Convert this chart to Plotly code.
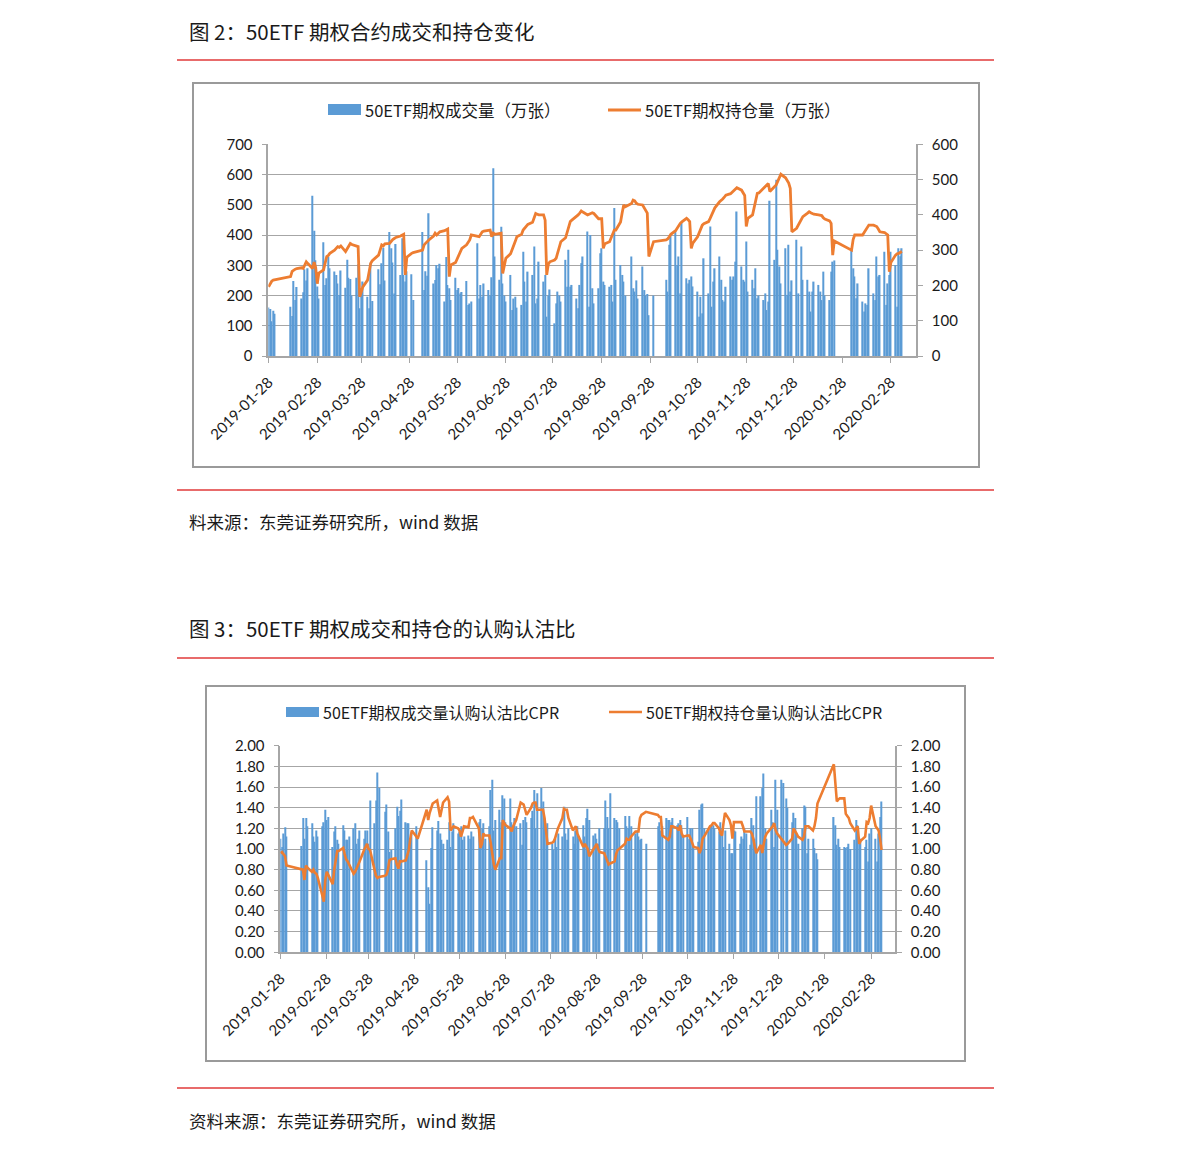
import pandas as pd
import plotly.graph_objects as go

# ---------------- categories: trading days ----------------
holidays = ['2019-02-04', '2019-02-05', '2019-02-06', '2019-02-07', '2019-02-08',
            '2019-04-05', '2019-05-01', '2019-05-02', '2019-05-03', '2019-06-07',
            '2019-09-13', '2019-10-01', '2019-10-02', '2019-10-03', '2019-10-04',
            '2019-10-07', '2020-01-01', '2020-01-24', '2020-01-27', '2020-01-28',
            '2020-01-29', '2020-01-30', '2020-01-31']
hol = set(pd.to_datetime(holidays))
dates = [d for d in pd.bdate_range('2019-01-28', '2020-03-06') if d not in hol]

tick_dates = ['2019-01-28', '2019-02-28', '2019-03-28', '2019-04-28', '2019-05-28',
              '2019-06-28', '2019-07-28', '2019-08-28', '2019-09-28', '2019-10-28',
              '2019-11-28', '2019-12-28', '2020-01-28', '2020-02-28']

# ---------------- chart 1: volume (万张, left) and open interest (万张, right) ----------------
volume = [
    160, 155, 115, 150,
    140, 163, 132, 248, 185, 228, 190, 211, 287, 250, 290, 530, 414, 317, 230,
    190, 376, 235, 257, 328, 290, 279, 268, 240, 202, 283, 226, 318, 259, 255, 200, 259, 303, 158, 224, 246,
    196, 158, 307, 182, 287, 237, 307, 358, 250, 410, 356, 309, 207, 370, 268, 389, 268, 246, 280, 270, 185,
    410, 218, 280, 265, 472, 240, 251, 301, 290, 305, 180, 327, 235, 224, 185, 259, 218, 225, 207, 212,
    248, 169, 174, 180, 373, 190, 235, 196, 240, 218, 200, 260, 621, 329, 252, 427, 240, 200, 180,
    268, 152, 190, 196, 160, 169, 345, 246, 180, 279, 268, 362, 174, 190, 312, 246, 268, 130, 200, 220, 108, 174, 213,
    200, 180, 318, 229, 351, 229, 235, 190, 158, 235, 307, 329, 412, 163, 400, 224, 174, 224, 340, 356, 246, 235,
    229, 235, 180, 489, 252, 301, 268, 246, 200, 329, 224, 213, 250, 190, 296, 218, 200, 205, 135, 200,
    252, 213, 368, 400, 412, 300, 329, 207, 440, 257, 240, 252, 263, 230, 213, 130, 196, 141,
    323, 207, 428, 163, 246, 290, 329, 252, 185, 180, 229, 263, 252, 263, 312, 478, 296, 252, 246, 379, 213,
    252, 224, 290, 191, 200, 185, 207, 152, 180, 513, 318, 583, 351, 296, 240, 356, 202, 368, 213, 250, 384, 207,
    362, 252, 252, 213, 147, 213, 246, 235, 213, 185, 279, 200, 185, 279, 312, 316,
    351, 290, 263, 191, 240, 180, 147, 174, 169, 290, 207, 185, 329, 263, 268, 345, 169, 240, 268, 345,
    301, 163, 356, 330, 356,
]
open_interest = [
    196, 205, 212, 215,
    216, 225, 240, 244, 246, 248, 250, 248, 258, 267, 262, 248, 266, 250, 205,
    235, 244, 260, 282, 285, 291, 300, 305, 310, 308, 312, 296, 305, 312, 319, 316, 313, 310, 168, 185, 196,
    215, 240, 263, 270, 286, 300, 315, 312, 318, 319, 325, 330, 333, 336, 340, 343, 345, 230, 280, 291, 293,
    300, 315, 320, 325, 329, 340, 348, 343, 347, 352, 355, 358, 360, 225, 258, 265, 275, 282, 295, 305,
    315, 324, 329, 343, 338, 338, 345, 352, 354, 357, 357, 338, 348, 345, 348, 348, 234, 255, 277,
    290, 300, 315, 325, 338, 345, 357, 362, 368, 373, 379, 390, 404, 402, 400, 400, 385, 230, 260, 267, 272, 277, 295,
    310, 324, 335, 350, 365, 381, 385, 395, 400, 405, 411, 408, 400, 402, 404, 406, 404, 389, 389, 389, 305, 318,
    324, 335, 345, 357, 357, 380, 405, 428, 423, 432, 442, 440, 433, 430, 428, 420, 411, 405, 282, 324,
    329, 332, 338, 345, 355, 362, 371, 376, 380, 390, 386, 381, 305, 320, 338, 350, 360, 371,
    375, 381, 390, 400, 409, 420, 437, 440, 445, 450, 456, 460, 465, 470, 474, 477, 470, 461, 455, 367, 390,
    400, 420, 440, 461, 462, 475, 478, 485, 489, 466, 480, 485, 495, 505, 515, 505, 499, 490, 475, 352, 362, 371,
    390, 395, 405, 409, 406, 404, 402, 400, 400, 398, 392, 388, 383, 376, 286, 326,
    300, 330, 343, 343, 345, 343, 350, 358, 365, 371, 371, 368, 367, 360, 352, 350, 345, 343, 239, 265,
    286, 290, 291, 293, 296,
]

# ---------------- chart 2: call/put ratios ----------------
volume_cpr = [
    1.10, 1.02, 1.15, 1.21,
    1.12, 1.03, 1.30, 1.10, 1.30, 1.22, 1.25, 1.12, 1.07, 1.18, 1.12, 1.22, 1.26, 1.38, 1.28,
    1.31, 1.02, 1.17, 1.22, 1.09, 1.05, 1.23, 1.18, 1.09, 1.09, 1.12, 1.20, 1.25, 1.05, 1.10, 1.18, 1.10, 1.18, 1.18, 1.05, 1.47,
    1.25, 1.47, 1.74, 1.59, 1.36, 1.43, 1.17, 0.97, 0.99, 1.20, 1.41, 1.32, 1.37, 1.48, 1.26, 1.25, 1.25, 1.09, 1.15, 1.22, 1.10,
    0.89, 0.63, 0.47, 1.01, 1.21, 1.18, 1.27, 1.15, 1.09, 1.05, 1.09, 1.26, 1.02, 1.17, 1.25, 1.15, 1.17, 1.22, 1.09, 1.12,
    1.13, 1.10, 1.17, 1.12, 1.26, 1.29, 1.20, 1.25, 1.10, 1.22, 1.57, 1.67, 1.18, 1.28, 1.38, 1.26, 1.52, 1.49, 1.26,
    1.49, 1.26, 1.22, 1.30, 1.22, 1.25, 1.04, 1.28, 1.31, 1.26, 1.30, 1.37, 1.57, 1.20, 1.54, 1.59, 1.46, 1.30, 1.17, 1.25, 1.05, 0.99, 1.10,
    1.02, 1.15, 1.12, 1.41, 1.15, 1.09, 1.20, 1.12, 1.05, 1.18, 1.22, 1.10, 1.23, 1.12, 1.30, 1.39, 1.28, 1.13, 1.15, 1.10, 1.05, 1.20,
    1.20, 1.47, 1.31, 1.20, 1.54, 1.30, 1.28, 1.26, 1.20, 1.32, 1.22, 1.20, 1.32, 1.22, 1.15, 1.18, 1.12, 1.09, 1.10, 1.05,
    1.22, 1.26, 1.18, 1.22, 1.30, 1.28, 1.28, 1.26, 1.30, 1.23, 1.25, 1.28, 1.23, 1.12, 1.31, 1.10, 1.20, 1.20,
    1.02, 1.07, 1.38, 1.43, 1.44, 1.20, 1.20, 1.21, 1.23, 1.23, 1.20, 1.17, 1.26, 1.20, 1.02, 1.18, 1.05, 0.96, 0.96, 1.18, 1.17,
    1.05, 1.12, 1.10, 1.20, 1.15, 1.04, 1.30, 1.23, 1.10, 1.51, 1.51, 1.59, 1.73, 1.20, 1.10, 1.38, 1.26, 1.02, 1.67, 1.38, 1.67, 1.64,
    1.49, 1.40, 1.26, 1.35, 1.30, 1.15, 1.05, 1.20, 1.42, 1.41, 0.96, 1.10, 1.10, 1.01, 0.96, 0.90,
    1.31, 1.23, 1.04, 1.10, 1.02, 1.02, 1.01, 1.02, 1.05, 1.00, 1.09, 1.28, 1.23, 1.05, 1.10, 1.02, 1.09, 0.88, 1.15, 1.20,
    1.10, 0.88, 1.15, 1.31, 1.46,
]
oi_cpr = [
    0.96, 0.97, 0.95, 0.93,
    0.84, 0.81, 0.80, 0.70, 0.84, 0.82, 0.78, 0.80, 0.77, 0.76, 0.72, 0.55, 0.49, 0.70, 0.78,
    0.75, 0.66, 0.80, 0.90, 0.98, 0.98, 1.01, 0.95, 0.90, 0.88, 0.85, 0.76, 0.78, 0.82, 0.86, 0.88, 0.99, 1.02, 1.05, 1.00, 0.99,
    0.80, 0.74, 0.72, 0.73, 0.74, 0.75, 0.80, 0.89, 0.90, 0.91, 0.85, 0.81, 0.88, 0.88, 0.89, 0.95, 0.99, 1.10, 1.18, 1.12, 1.10,
    1.38, 1.28, 1.35, 1.41, 1.44, 1.47, 1.40, 1.31, 1.38, 1.45, 1.50, 1.46, 1.18, 1.20, 1.22, 1.20, 1.18, 1.12, 1.18, 1.22,
    1.21, 1.30, 1.30, 1.31, 1.20, 1.01, 1.05, 1.15, 1.13, 1.13, 1.05, 0.94, 0.85, 0.80, 0.91, 0.91, 1.28, 1.25, 1.23,
    1.20, 1.17, 1.22, 1.25, 1.28, 1.45, 1.44, 1.43, 1.38, 1.33, 1.40, 1.44, 1.45, 1.45, 1.38, 1.38, 1.38, 1.30, 1.15, 1.05, 1.06, 1.07, 1.10,
    1.15, 1.20, 1.30, 1.39, 1.38, 1.38, 1.30, 1.18, 1.20, 1.22, 1.15, 1.12, 1.02, 1.05, 1.03, 1.00, 0.93, 1.00, 1.02, 1.05, 1.00, 0.97,
    0.96, 0.92, 0.88, 0.85, 0.86, 0.88, 0.95, 0.99, 1.00, 1.05, 1.10, 1.09, 1.09, 1.12, 1.17, 1.17, 1.17, 1.30, 1.33, 1.36,
    1.33, 1.31, 1.31, 1.13, 1.10, 1.09, 1.12, 1.22, 1.22, 1.20, 1.18, 1.23, 1.15, 1.12, 1.13, 1.13, 1.10, 1.05,
    1.02, 1.01, 0.96, 1.00, 1.10, 1.12, 1.20, 1.22, 1.23, 1.25, 1.25, 1.20, 1.15, 1.13, 1.25, 1.35, 1.28, 1.23, 1.10, 1.26, 1.26,
    1.26, 1.26, 1.22, 1.17, 1.17, 1.17, 1.15, 1.10, 1.02, 0.96, 1.04, 0.96, 1.05, 1.12, 1.15, 1.20, 1.22, 1.25, 1.18, 1.15, 1.10, 1.08,
    1.04, 1.05, 1.10, 1.20, 1.18, 1.15, 1.12, 1.09, 1.12, 1.22, 1.22, 1.22, 1.18, 1.22, 1.30, 1.44,
    1.82, 1.60, 1.46, 1.48, 1.49, 1.49, 1.34, 1.32, 1.30, 1.25, 1.18, 1.20, 1.22, 1.05, 1.08, 1.12, 1.26, 1.25, 1.30, 1.42,
    1.22, 1.20, 1.18, 1.10, 0.99,
]

assert len(dates) == len(volume) == len(open_interest) == len(volume_cpr) == len(oi_cpr), (
    len(dates), len(volume), len(open_interest), len(volume_cpr), len(oi_cpr))

# ---------------- texts ----------------
title1 = "图 2：50ETF 期权合约成交和持仓变化"
title2 = "图 3：50ETF 期权成交和持仓的认购认沽比"
source1 = "料来源：东莞证券研究所，wind 数据"
source2 = "资料来源：东莞证券研究所，wind 数据"
legend1 = ["50ETF期权成交量（万张）", "50ETF期权持仓量（万张）"]
legend2 = ["50ETF期权成交量认购认沽比CPR", "50ETF期权持仓量认购认沽比CPR"]

# ---------------- styling ----------------
W, H = 1191, 1149
BLUE = "#5B9BD5"
ORANGE = "#ED7D31"
GRID = "#A6A6A6"
FRAME = "#9A9A9A"
RED = "#E03A3A"
NUMFONT = "Lato, 'Noto Sans CJK SC', sans-serif"
CJK = "'Noto Sans CJK SC', 'Noto Sans', sans-serif"
TXT = "#1a1a1a"


def px(x):
    return x / W


def py(y):
    return 1 - y / H


DAY_MS = 86400000
fig = go.Figure()

fig.add_trace(go.Bar(x=dates, y=volume, name=legend1[0], marker=dict(color=BLUE, line=dict(width=0)),
                     width=0.75 * DAY_MS, xaxis="x", yaxis="y", showlegend=False))
fig.add_trace(go.Scatter(x=dates, y=open_interest, name=legend1[1], mode="lines",
                         line=dict(color=ORANGE, width=2.8), xaxis="x", yaxis="y2", showlegend=False))
fig.add_trace(go.Bar(x=dates, y=volume_cpr, name=legend2[0], marker=dict(color=BLUE, line=dict(width=0)),
                     width=0.75 * DAY_MS, xaxis="x2", yaxis="y3", showlegend=False))
fig.add_trace(go.Scatter(x=dates, y=oi_cpr, name=legend2[1], mode="lines",
                         line=dict(color=ORANGE, width=2.6), xaxis="x2", yaxis="y4", showlegend=False))

xrange = ["2019-01-27 20:00", "2020-03-15"]
common_x = dict(type="date", range=xrange, tickmode="array", tickvals=tick_dates, ticktext=tick_dates,
                tickangle=-45, showgrid=False, showline=True, linecolor=GRID, linewidth=1.5,
                ticks="outside", ticklen=5, tickcolor=GRID, tickwidth=1.2, automargin=False,
                ticklabelstandoff=5,
                tickfont=dict(family=NUMFONT, size=15, color=TXT), zeroline=False)
common_y = dict(showline=True, linecolor=GRID, linewidth=1.5, ticks="outside", ticklen=5,
                tickcolor=GRID, tickwidth=1.2, zeroline=False, automargin=False,
                tickfont=dict(family=NUMFONT, size=15, color=TXT), ticklabelstandoff=6)

fig.update_layout(
    width=W, height=H, autosize=False,
    margin=dict(l=0, r=0, t=0, b=0, pad=0, autoexpand=False),
    paper_bgcolor="white", plot_bgcolor="white",
    barmode="overlay",
    xaxis=dict(domain=[px(268.3), px(916)], anchor="y", **common_x),
    yaxis=dict(domain=[py(356), py(144.3)], anchor="x", range=[0, 700], dtick=100,
               showgrid=True, gridcolor=GRID, gridwidth=1.2, **common_y),
    yaxis2=dict(overlaying="y", side="right", anchor="x", range=[0, 600], dtick=100,
                showgrid=False, **common_y),
    xaxis2=dict(domain=[px(280.3), px(895)], anchor="y3", **common_x),
    yaxis3=dict(domain=[py(952.3), py(745.7)], anchor="x2", range=[0, 2], dtick=0.2, tickformat=".2f",
                showgrid=True, gridcolor=GRID, gridwidth=1.2, **common_y),
    yaxis4=dict(overlaying="y3", side="right", anchor="x2", range=[0, 2], dtick=0.2, tickformat=".2f",
                showgrid=False, **common_y),
)

shapes = []
# chart frames
shapes.append(dict(type="rect", xref="paper", yref="paper", x0=px(193), x1=px(979), y0=py(467), y1=py(83),
                   line=dict(color=FRAME, width=2), fillcolor="rgba(0,0,0,0)", layer="below"))
shapes.append(dict(type="rect", xref="paper", yref="paper", x0=px(206), x1=px(965), y0=py(1061), y1=py(686),
                   line=dict(color=FRAME, width=2), fillcolor="rgba(0,0,0,0)", layer="below"))
# red separators
for yy in (60, 490, 658, 1088):
    shapes.append(dict(type="line", xref="paper", yref="paper", x0=px(177), x1=px(994), y0=py(yy), y1=py(yy),
                       line=dict(color=RED, width=1.5)))
# legend keys
shapes.append(dict(type="rect", xref="paper", yref="paper", x0=px(328), x1=px(361), y0=py(115), y1=py(104),
                   line=dict(width=0), fillcolor=BLUE))
shapes.append(dict(type="line", xref="paper", yref="paper", x0=px(608), x1=px(641), y0=py(110), y1=py(110),
                   line=dict(color=ORANGE, width=2.8)))
shapes.append(dict(type="rect", xref="paper", yref="paper", x0=px(286), x1=px(319), y0=py(717), y1=py(707),
                   line=dict(width=0), fillcolor=BLUE))
shapes.append(dict(type="line", xref="paper", yref="paper", x0=px(609), x1=px(642), y0=py(712), y1=py(712),
                   line=dict(color=ORANGE, width=2.6)))

annotations = []


def text(x, y, s, size, family=CJK, anchor="left"):
    annotations.append(dict(xref="paper", yref="paper", x=px(x), y=py(y), text=s, showarrow=False,
                            xanchor=anchor, yanchor="middle", font=dict(family=family, size=size, color=TXT)))


text(187, 31, title1, 20.5)
text(187, 628, title2, 20.5)
text(187, 521, source1, 17.5)
text(187, 1120, source2, 17.5)
text(363, 110, legend1[0], 16.5)
text(643, 110, legend1[1], 16.5)
text(321, 712, legend2[0], 16)
text(644, 712, legend2[1], 16)

fig.update_layout(shapes=shapes, annotations=annotations)
fig.write_html("out.html")
